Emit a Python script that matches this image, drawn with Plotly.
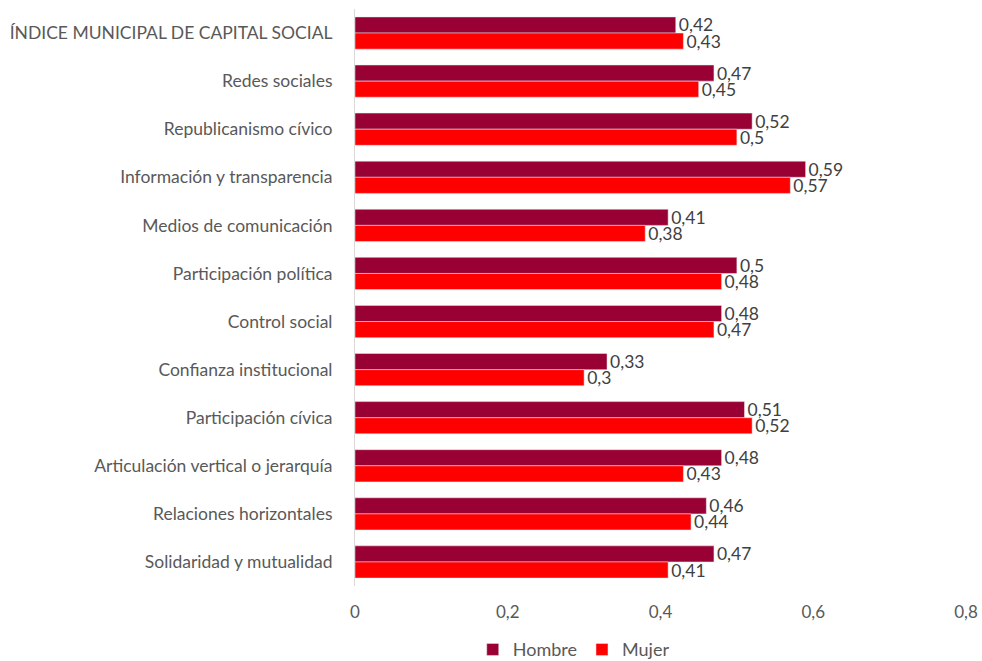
import plotly.graph_objects as go

categories = [
    "ÍNDICE MUNICIPAL DE CAPITAL SOCIAL",
    "Redes sociales",
    "Republicanismo cívico",
    "Información y transparencia",
    "Medios de comunicación",
    "Participación política",
    "Control social",
    "Confianza institucional",
    "Participación cívica",
    "Articulación vertical o jerarquía",
    "Relaciones horizontales",
    "Solidaridad y mutualidad",
]
hombre = [0.42, 0.47, 0.52, 0.59, 0.41, 0.50, 0.48, 0.33, 0.51, 0.48, 0.46, 0.47]
mujer = [0.43, 0.45, 0.50, 0.57, 0.38, 0.48, 0.47, 0.30, 0.52, 0.43, 0.44, 0.41]
tick_vals = [0, 0.2, 0.4, 0.6, 0.8]
tick_text = ["0", "0,2", "0,4", "0,6", "0,8"]


def fmt(v):
    s = f"{v:.2f}".rstrip("0").rstrip(".")
    return s.replace(".", ",")


font_family = "Lato, 'Open Sans', sans-serif"
text_color = "#595959"
label_color = "#404040"

fig = go.Figure()
for name, vals, color in [("Hombre", hombre, "#990033"), ("Mujer", mujer, "#FF0000")]:
    fig.add_trace(go.Bar(
        name=name, y=categories, x=vals, orientation="h",
        marker=dict(color=color),
        text=[fmt(v) for v in vals], textposition="outside",
        constraintext="none",
        textfont=dict(size=17.5, color=label_color, family=font_family),
        cliponaxis=False,
    ))

fig.update_layout(
    width=982, height=661,
    barmode="group", bargap=0.33, bargroupgap=0.0,
    plot_bgcolor="white", paper_bgcolor="white",
    margin=dict(l=355, r=16, t=9, b=75, autoexpand=False),
    font=dict(family=font_family, size=17, color=text_color),
    xaxis=dict(range=[0, 0.8], tickvals=tick_vals, ticktext=tick_text,
               showgrid=False, zeroline=False, showline=False,
               ticks="", ticklabelstandoff=14, automargin=False,
               tickfont=dict(size=17, color=text_color)),
    yaxis=dict(autorange="reversed", showgrid=False, zeroline=False,
               showline=True, linecolor="#D9D9D9", linewidth=1,
               ticks="", ticklabelstandoff=18, automargin=False,
               tickfont=dict(size=17.5, color=text_color)),
    legend=dict(orientation="h", x=0.358, xanchor="center",
                yref="container", y=0.017, yanchor="middle",
                font=dict(size=18, color=text_color),
                itemwidth=30, traceorder="normal"),
    showlegend=True,
)

# remove the browser's default 8px body margin so the figure fills the window
fig.write_html("out.html",
               config={"displayModeBar": False},
               post_script="document.body.style.margin='0';document.body.style.overflow='hidden';")
